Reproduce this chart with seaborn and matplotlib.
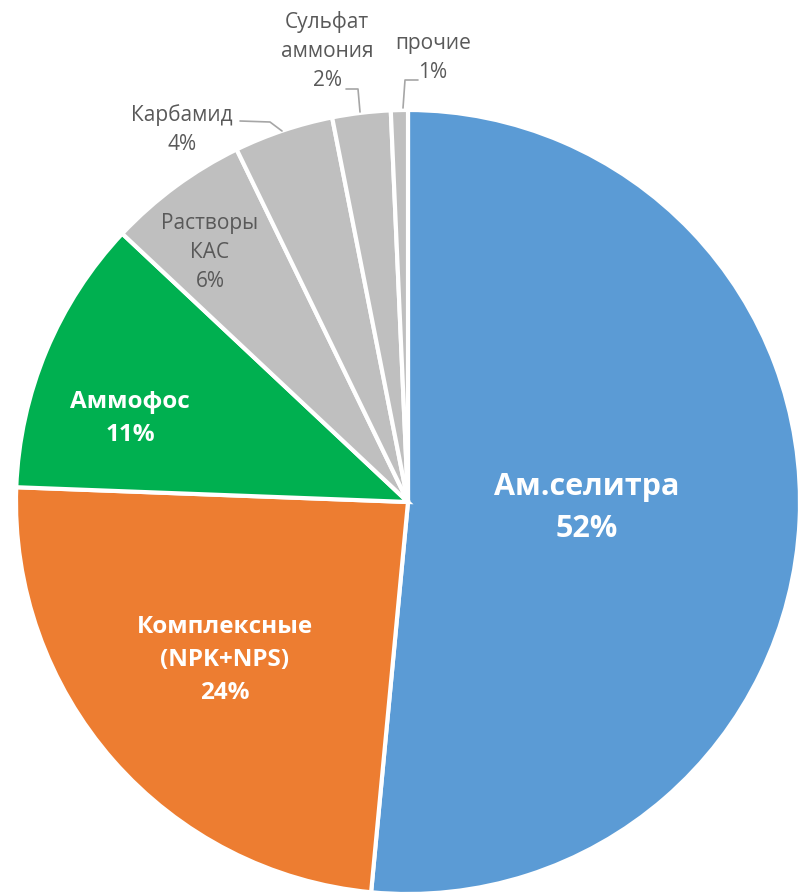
import matplotlib
matplotlib.use("Agg")
import matplotlib.pyplot as plt
import seaborn as sns

# данные
categories = ["Ам.селитра", "Комплексные\n(NPK+NPS)", "Аммофос", "Растворы\nКАС",
              "Карбамид", "Сульфат\nаммония", "прочие"]
shares = [51.5, 24.1, 11.4, 5.8, 4.1, 2.4, 0.7]
pct_labels = ["52%", "24%", "11%", "6%", "4%", "2%", "1%"]

colors = sns.color_palette(["#5B9BD5", "#ED7D31", "#00B050",
                            "#BFBFBF", "#BFBFBF", "#BFBFBF", "#BFBFBF"])

sns.set_theme(style="white")
plt.rcParams['font.family'] = ['Open Sans', 'DejaVu Sans']

W, H = 799, 893
fig = plt.figure(figsize=(W / 100, H / 100), dpi=100)
cx, cy, r = 408, 502, 392
ax = fig.add_axes([(cx - r) / W, (H - cy - r) / H, 2 * r / W, 2 * r / H])

ax.pie(shares, colors=colors, startangle=90, counterclock=False, radius=1,
       wedgeprops=dict(edgecolor="white", linewidth=3))
ax.set_xlim(-1, 1)
ax.set_ylim(-1, 1)
ax.set_aspect("equal")
ax.axis("off")


def px(x, y):
    # пиксели картинки -> координаты осей
    return (x - cx) / r, (cy - y) / r


# позиции подписей (пиксели центра текста)
label_pos = [(587, 508), (225, 660), (130, 418), (210, 252), (182, 130), (327, 51), (433, 58)]
sizes = [22, 17.5, 17.5, 15, 15, 15, 15]

for i, (name, pct) in enumerate(zip(categories, pct_labels)):
    x, y = px(*label_pos[i])
    if i < 3:
        ax.text(x, y, f"{name}\n{pct}", ha="center", va="center", color="white",
                fontsize=sizes[i], fontweight="bold", linespacing=1.5)
    else:
        ax.text(x, y, f"{name}\n{pct}", ha="center", va="center", color="#595959",
                fontsize=sizes[i], linespacing=1.5)

# выноски
leaders = [
    [(240, 121), (270, 122), (282, 131)],
    [(346, 89), (358, 89), (360, 112)],
    [(418, 80), (405, 80), (403, 108)],
]
for pts in leaders:
    xs, ys = zip(*[px(*p) for p in pts])
    ax.plot(xs, ys, color="#A6A6A6", linewidth=1.2, clip_on=False)

fig.savefig("out.png", dpi=100)
